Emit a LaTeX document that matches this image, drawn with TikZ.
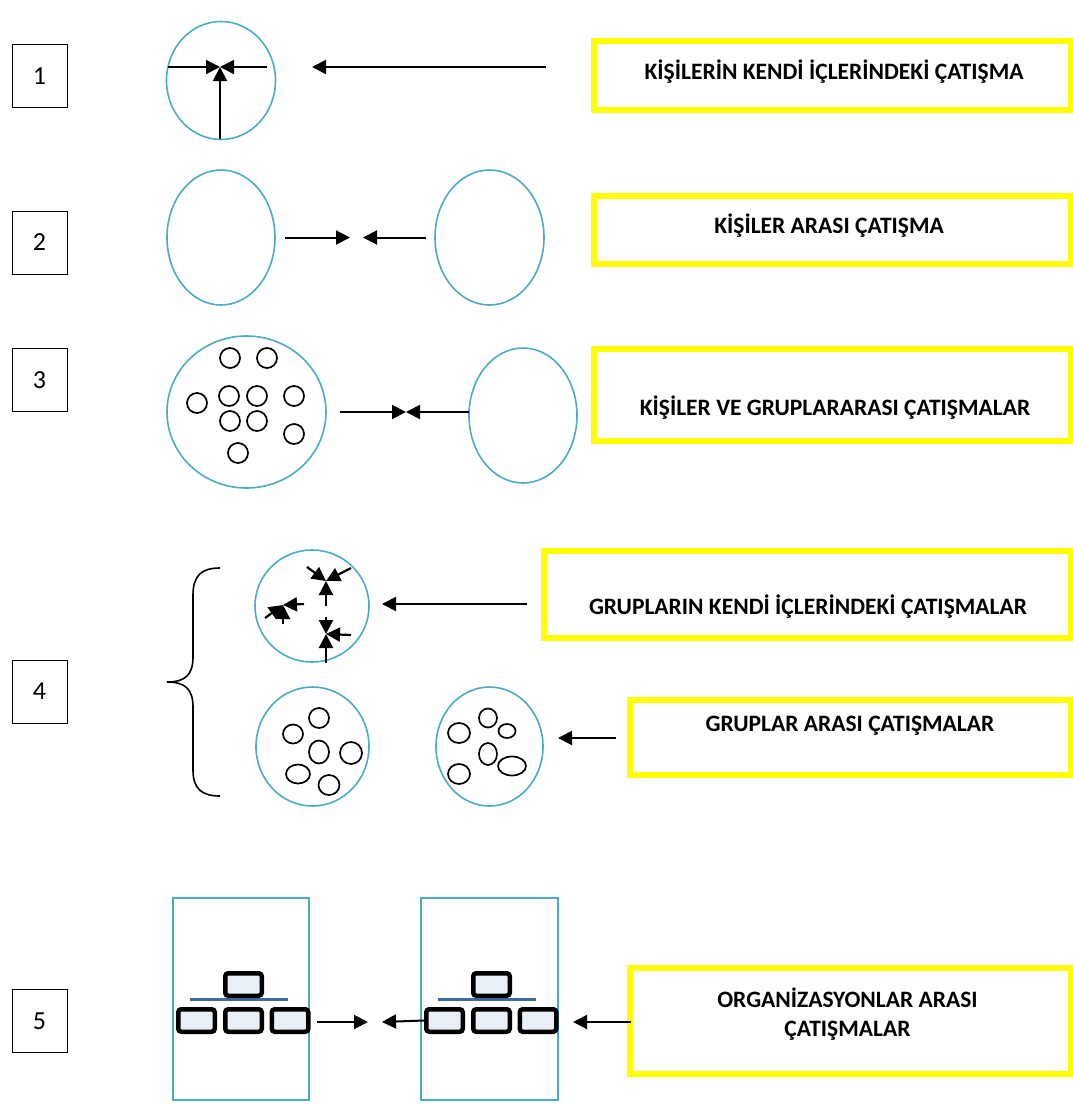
\documentclass[tikz,border=0pt]{standalone}
\usepackage{fontspec}
\setmainfont{Carlito}
\usetikzlibrary{arrows.meta,shapes.geometric}
\definecolor{cyanl}{HTML}{4BACC6}
\definecolor{ylw}{HTML}{FFFF00}
\definecolor{orgfill}{HTML}{E9EFF7}
\definecolor{orgline}{HTML}{3F6A9E}
\begin{document}
\begin{tikzpicture}[x=1pt,y=-1pt,
 ell/.style={draw=cyanl,line width=1.6pt,ellipse,inner sep=0pt},
 sm/.style={draw=black,line width=1.7pt,ellipse,inner sep=0pt},
 numbox/.style={draw=black,line width=1pt,minimum width=55pt,minimum height=63pt,inner sep=0pt,font=\fontsize{26}{30}\selectfont},
 ybox/.style={draw=ylw,line width=6pt,inner sep=0pt},
 lbl/.style={font=\bfseries\fontsize{23.5}{28}\selectfont,inner sep=0pt,align=center},
 arr/.style={draw=black,line width=2pt,-{Triangle[length=14pt,width=14pt]}},
 sarr/.style={draw=black,line width=2.2pt,-{Triangle[length=14pt,width=14pt]}},
 orgbox/.style={draw=black,line width=4.5pt,rounded corners=3pt,fill=orgfill,minimum width=36.5pt,minimum height=22.5pt,inner sep=0pt},
 orgrect/.style={draw=cyanl,line width=2pt,inner sep=0pt},
]
\useasboundingbox (0,0) rectangle (1073,1104);
\fill[white] (0,0) rectangle (1073,1104);

% number boxes
\node[numbox] (n1) at (39.5,76) {1};
\node[numbox] (n2) at (39.5,242.5) {2};
\node[numbox] (n3) at (39.5,380) {3};
\node[numbox] (n4) at (39.5,691.5) {4};
\node[numbox] (n5) at (39.5,1021) {5};

% yellow label boxes
\draw[ybox] (594,40.5) rectangle (1071,109.5);
\node[lbl] (t1) at (834,72) {KİŞİLERİN KENDİ İÇLERİNDEKİ ÇATIŞMA};
\draw[ybox] (594,196) rectangle (1071,264);
\node[lbl] (t2) at (829,226) {KİŞİLER ARASI ÇATIŞMA};
\draw[ybox] (594,349) rectangle (1071,441);
\node[lbl] (t3) at (835,408) {KİŞİLER VE GRUPLARARASI ÇATIŞMALAR};
\draw[ybox] (543.5,550.5) rectangle (1071,637.5);
\node[lbl] (t4) at (808,607) {GRUPLARIN KENDİ İÇLERİNDEKİ ÇATIŞMALAR};
\draw[ybox] (629.5,700) rectangle (1071,775);
\node[lbl] (t5) at (850,726) {GRUPLAR ARASI ÇATIŞMALAR};
\draw[ybox] (630,968) rectangle (1071,1074);
\node[lbl] (t6a) at (847.5,998) {ORGANİZASYONLAR ARASI};
\node[lbl] (t6b) at (847.5,1031) {ÇATIŞMALAR};

% row 1
\node[ell,minimum width=109pt,minimum height=118pt] (e1) at (221,80.5) {};
\coordinate (c1) at (220,67);
\coordinate (c1l) at (167.5,67);
\coordinate (c1r) at (267,67);
\coordinate (c1b) at (220,139);
\draw[arr] (c1l) -- (c1);
\draw[arr] (c1r) -- (c1);
\draw[arr] (c1b) -- (c1);
\coordinate (a1s) at (546,67);
\coordinate (a1e) at (312,67);
\draw[arr] (a1s) -- (a1e);

% row 2
\node[ell,minimum width=108pt,minimum height=135pt] (e2a) at (221,237.5) {};
\node[ell,minimum width=109pt,minimum height=135pt] (e2b) at (489.5,237.5) {};
\coordinate (c2a) at (350,237.5);
\coordinate (c2b) at (363,237.5);
\draw[arr] ([xshift=9pt]e2a.east) -- (c2a);
\draw[arr] ([xshift=-8pt]e2b.west) -- (c2b);

% row 3
\node[ell,minimum width=159pt,minimum height=152pt] (e3a) at (246.5,412) {};
\node[ell,minimum width=108pt,minimum height=135pt] (e3b) at (523,415.5) {};
\foreach \x/\y [count=\i] in {230/358,267/358,197/403,229/396,257/396,294/396,230/421,257/421,294/434,238/453}
  \node[sm,minimum width=20pt,minimum height=20pt] (s3\i) at (\x,\y) {};
\coordinate (c3) at (406,412);
\coordinate (c3l) at (340,412);
\coordinate (c3r) at (469,412);
\draw[arr] (c3l) -- (c3);
\draw[arr] (c3r) -- (c3);

% row 4
\draw[line width=1.6pt] (220,568) .. controls (202,568) and (193,575) .. (193,595) -- (193,657)
  .. controls (193,675) and (185,682) .. (167,682)
  .. controls (185,682) and (193,689) .. (193,707) -- (193,770)
  .. controls (193,789) and (202,796) .. (220,796);
\node[ell,minimum width=114pt,minimum height=112pt] (e4a) at (312,606) {};
\node[ell,minimum width=113pt,minimum height=119pt] (e4b) at (312.5,746.5) {};
\node[ell,minimum width=107pt,minimum height=119pt] (e4c) at (489.5,746.5) {};
% inner conflicts
\coordinate (k1) at (326,581);
\coordinate (k1a) at (307,567);
\coordinate (k1b) at (351,568);
\coordinate (k1c) at (326,606);
\draw[sarr] (k1a) -- (k1);
\draw[sarr] (k1b) -- (k1);
\draw[sarr] (k1c) -- (k1);
\coordinate (k2) at (283,605);
\coordinate (k2a) at (265,618);
\coordinate (k2b) at (304,604);
\coordinate (k2c) at (283,624);
\draw[sarr] (k2a) -- (k2);
\draw[sarr] (k2b) -- (k2);
\draw[sarr] (k2c) -- (k2);
\coordinate (k3) at (326,634);
\coordinate (k3a) at (326,617);
\coordinate (k3b) at (351,635);
\coordinate (k3c) at (326,663);
\draw[sarr] (k3a) -- (k3);
\draw[sarr] (k3b) -- (k3);
\draw[sarr] (k3c) -- (k3);
\coordinate (a4s) at (527,604);
\coordinate (a4e) at (382,604);
\draw[arr] (a4s) -- (a4e);
\coordinate (a5s) at (616,738);
\coordinate (a5e) at (558,738);
\draw[arr] (a5s) -- (a5e);
% small groups
\node[sm,minimum width=20pt,minimum height=19pt] (g1) at (293,734) {};
\node[sm,minimum width=20pt,minimum height=20pt] (g2) at (319,718) {};
\node[sm,minimum width=20pt,minimum height=23pt] (g3) at (319,752) {};
\node[sm,minimum width=22pt,minimum height=22pt] (g4) at (351,753) {};
\node[sm,minimum width=24pt,minimum height=19pt] (g5) at (298,774) {};
\node[sm,minimum width=21pt,minimum height=20pt] (g6) at (329,785) {};
\node[sm,minimum width=22pt,minimum height=20pt] (h1) at (459,733) {};
\node[sm,minimum width=18pt,minimum height=19pt] (h2) at (488,718) {};
\node[sm,minimum width=17pt,minimum height=14pt] (h3) at (507,731) {};
\node[sm,minimum width=18pt,minimum height=22pt] (h4) at (488,754) {};
\node[sm,minimum width=28pt,minimum height=19pt] (h5) at (512,766) {};
\node[sm,minimum width=22pt,minimum height=20pt] (h6) at (459,774) {};

% row 5
\node[orgrect,minimum width=136pt,minimum height=202pt] (ra) at (241,999) {};
\node[orgrect,minimum width=137pt,minimum height=202pt] (rb) at (489.5,999) {};
\foreach \dx/\n in {0/a,248/b}{
  \draw[orgline,line width=3pt] (190+\dx,999) -- (288+\dx,999);
  \node[orgbox] (top\n) at (243.5+\dx,984.5) {};
  \node[orgbox] (l\n) at (196.5+\dx,1020.5) {};
  \node[orgbox] (m\n) at (243.5+\dx,1020.5) {};
  \node[orgbox] (r\n) at (290+\dx,1020.5) {};
}
\coordinate (c5a) at (368,1022);
\coordinate (c5al) at (317,1022);
\coordinate (c5b) at (382,1022);
\draw[arr] (c5al) -- (c5a);
\draw[arr] (lb.west) -- (c5b);
\coordinate (a6s) at (631,1022);
\coordinate (a6e) at (573,1022);
\draw[arr] (a6s) -- (a6e);
\end{tikzpicture}
\end{document}
